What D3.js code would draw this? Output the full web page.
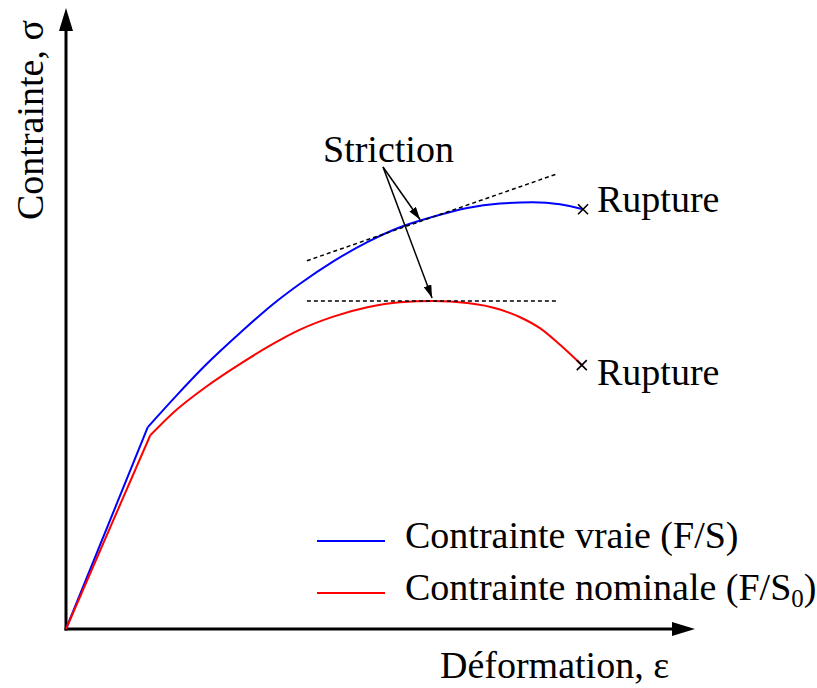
<!DOCTYPE html>
<html>
<head>
<meta charset="utf-8">
<script src="https://cdn.jsdelivr.net/npm/d3@7"></script>
<style>
  body { margin: 0; background: #fff; }
  text { font-family: "Liberation Serif", "DejaVu Serif", serif; fill: #000; }
</style>
</head>
<body>
<div id="chart"></div>
<script>
// strain (x) and stress (y), arbitrary units 0..100
const trueElastic = [[0, 0], [13.0, 32.5]];
const truePlastic = [[13.0, 32.5], [17.3, 37.3], [22.4, 42.7], [27.7, 47.7], [32.9, 52.3], [37.2, 55.6],
    [42.5, 59.2], [47.9, 62.3], [53.1, 64.7], [58.4, 66.4], [63.8, 67.8], [69.0, 68.5],
    [74.2, 68.7], [78.5, 68.4], [82.2, 67.6]];
const nomElastic = [[0, 0], [13.4, 31.2]];
const nomPlastic = [[13.4, 31.2], [17.0, 34.8], [22.4, 39.1], [27.7, 42.7], [32.9, 45.9], [37.2, 48.2],
    [42.5, 50.3], [47.9, 51.8], [53.1, 52.6], [58.4, 52.8], [63.8, 52.5], [69.0, 51.45],
    [72.2, 50.2], [75.4, 48.4], [78.5, 45.8], [82.0, 42.5]];
const tangentTrue = [[38.3, 59.3], [78.1, 73.3]];
const tangentNom = [[38.3, 52.8], [78.1, 52.8]];
const strictionFrom = [50.4, 74.4];
const strictionTo = [[56.3, 65.9], [58.2, 53.3]];
const ruptures = [[82.2, 67.6], [82.0, 42.5]];
const legendLabels = ["Contrainte vraie (F/S)", "Contrainte nominale (F/S"];
const colors = ["#0000ff", "#ff0000"];

const width = 817, height = 688;
const svg = d3.select("#chart").append("svg")
    .attr("width", width).attr("height", height);

const x = d3.scaleLinear().domain([0, 100]).range([66, 695]);
const y = d3.scaleLinear().domain([0, 100]).range([629, 8]);

// axes with arrow heads
svg.append("line")
    .attr("x1", x(0)).attr("y1", y(0) + 1.5).attr("x2", x(0)).attr("y2", y(100) + 18)
    .attr("stroke", "#000").attr("stroke-width", 3);
svg.append("path")
    .attr("d", `M${x(0)},${y(100)} L${x(0) - 7},${y(100) + 23} L${x(0) + 7},${y(100) + 23} Z`)
    .attr("fill", "#000");
svg.append("line")
    .attr("x1", x(0) - 1.5).attr("y1", y(0)).attr("x2", x(100) - 18).attr("y2", y(0))
    .attr("stroke", "#000").attr("stroke-width", 3);
svg.append("path")
    .attr("d", `M${x(100)},${y(0)} L${x(100) - 23},${y(0) - 7} L${x(100) - 23},${y(0) + 7} Z`)
    .attr("fill", "#000");

svg.append("text")
    .attr("transform", "translate(43,220) rotate(-90)")
    .attr("font-size", 38)
    .text("Contrainte, σ");
svg.append("text")
    .attr("x", 440).attr("y", 678)
    .attr("font-size", 38)
    .text("Déformation, ε");

// curves
const straight = d3.line().x(d => x(d[0])).y(d => y(d[1]));
const smooth = d3.line().x(d => x(d[0])).y(d => y(d[1])).curve(d3.curveMonotoneX);

[[trueElastic, truePlastic], [nomElastic, nomPlastic]].forEach((s, i) => {
    svg.append("path").datum(s[0]).attr("d", straight)
        .attr("fill", "none").attr("stroke", colors[i]).attr("stroke-width", 2);
    svg.append("path").datum(s[1]).attr("d", smooth)
        .attr("fill", "none").attr("stroke", colors[i]).attr("stroke-width", 2)
        .attr("stroke-linejoin", "round");
});

// dashed tangents
[tangentTrue, tangentNom].forEach(t => {
    svg.append("path").datum(t).attr("d", straight)
        .attr("fill", "none").attr("stroke", "#000").attr("stroke-width", 1.5)
        .attr("stroke-dasharray", "4,3");
});

// striction arrows
svg.append("defs").append("marker")
    .attr("id", "head").attr("viewBox", "0 0 13 8")
    .attr("refX", 13).attr("refY", 4)
    .attr("markerWidth", 13).attr("markerHeight", 8)
    .attr("markerUnits", "userSpaceOnUse")
    .attr("orient", "auto")
    .append("path").attr("d", "M0,0 L13,4 L0,8 Z").attr("fill", "#000");

strictionTo.forEach(p => {
    svg.append("line")
        .attr("x1", x(strictionFrom[0])).attr("y1", y(strictionFrom[1]))
        .attr("x2", x(p[0])).attr("y2", y(p[1]))
        .attr("stroke", "#000").attr("stroke-width", 1.5)
        .attr("marker-end", "url(#head)");
});
svg.append("text")
    .attr("x", 323).attr("y", 162)
    .attr("font-size", 38)
    .text("Striction");

// rupture marks
const ruptureBase = [212, 385];
ruptures.forEach((p, i) => {
    const cx = x(p[0]), cy = y(p[1]);
    svg.append("path")
        .attr("d", `M${cx - 5},${cy - 5} L${cx + 5},${cy + 5} M${cx - 5},${cy + 5} L${cx + 5},${cy - 5}`)
        .attr("stroke", "#000").attr("stroke-width", 1.6);
    svg.append("text")
        .attr("x", 597).attr("y", ruptureBase[i])
        .attr("font-size", 38)
        .text("Rupture");
});

// legend
const legend = svg.append("g");
legendLabels.forEach((lab, i) => {
    const ly = 541 + i * 52;
    legend.append("line")
        .attr("x1", 317).attr("x2", 385).attr("y1", ly).attr("y2", ly)
        .attr("stroke", colors[i]).attr("stroke-width", 2);
    const t = legend.append("text")
        .attr("x", 405).attr("y", ly + 7)
        .attr("font-size", 38)
        .text(lab);
    if (i === 1) {
        t.append("tspan").attr("font-size", 25).attr("dy", 7).text("0");
        t.append("tspan").attr("dy", -7).text(")");
    }
});
</script>
</body>
</html>
